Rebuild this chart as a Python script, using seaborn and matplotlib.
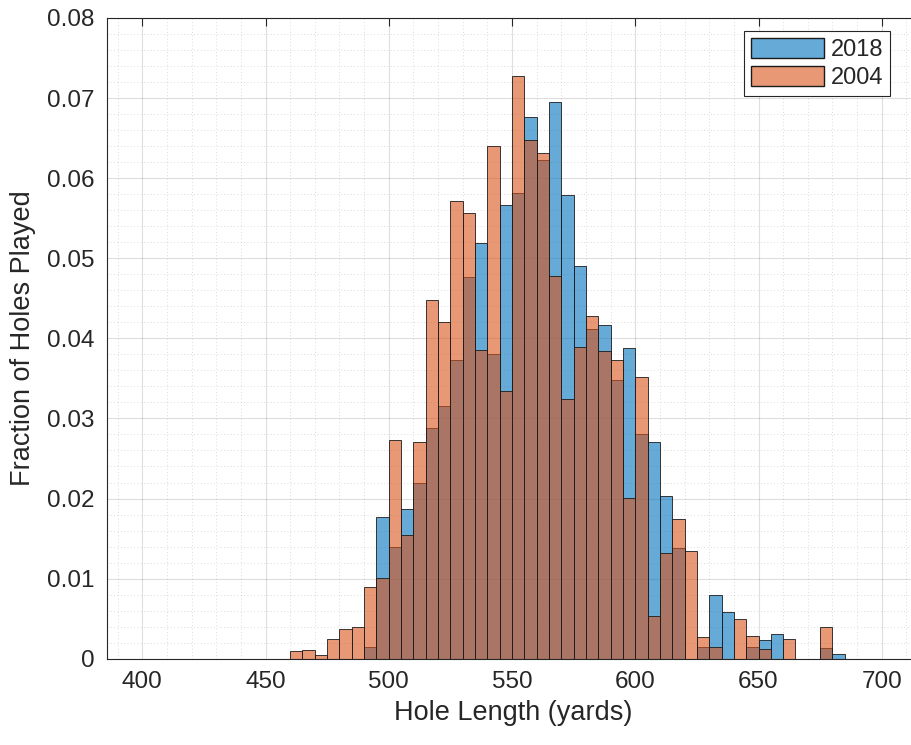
import numpy as np
import pandas as pd
import matplotlib
matplotlib.use("Agg")
import matplotlib.pyplot as plt
from matplotlib.patches import Patch
from matplotlib.ticker import MultipleLocator, FixedLocator, FixedFormatter
import seaborn as sns

# 5-yard bins, left edges 460 ... 680
bin_left = np.arange(460, 685, 5)
frac_2018 = [0, 0, 0, 0, 0, 0, 0.0015, 0.0177, 0.0139, 0.0187,
             0.0220, 0.0288, 0.0315, 0.0373, 0.0477, 0.0519, 0.0380, 0.0566, 0.0581, 0.0677,
             0.0623, 0.0695, 0.0579, 0.0490, 0.0412, 0.0417, 0.0348, 0.0388, 0.0281, 0.0271,
             0.0203, 0.0138, 0, 0.0014, 0.0080, 0.0058, 0, 0.0015, 0.0023, 0.0031,
             0, 0, 0, 0.0013, 0.0006]
frac_2004 = [0.0009, 0.0011, 0.0004, 0.0025, 0.0037, 0.0039, 0.0089, 0.0101, 0.0273, 0.0154,
             0.0271, 0.0448, 0.0421, 0.0571, 0.0556, 0.0386, 0.0640, 0.0334, 0.0727, 0.0648,
             0.0631, 0.0478, 0.0324, 0.0389, 0.0428, 0.0384, 0.0373, 0.0201, 0.0352, 0.0053,
             0.0132, 0.0175, 0.0134, 0.0027, 0.0014, 0, 0.0050, 0.0028, 0.0012, 0,
             0.0025, 0, 0, 0.0040, 0]
series_names = ["2018", "2004"]
y_ticks = [0, 0.01, 0.02, 0.03, 0.04, 0.05, 0.06, 0.07, 0.08]
y_tick_labels = ["0", "0.01", "0.02", "0.03", "0.04", "0.05", "0.06", "0.07", "0.08"]
x_ticks = [400, 450, 500, 550, 600, 650, 700]

sns.set_style("white")
plt.rcParams["font.family"] = ["Liberation Sans", "DejaVu Sans"]

text_col = (0.15, 0.15, 0.15)
colors = {"2018": (0.0, 0.447, 0.741), "2004": (0.85, 0.325, 0.098)}

df = pd.DataFrame({
    "length": np.concatenate([bin_left + 2.5, bin_left + 2.5]),
    "frac": np.concatenate([frac_2018, frac_2004]),
    "year": np.repeat(series_names, len(bin_left)),
})

fig = plt.figure(figsize=(9.11, 7.45), dpi=100)
ax = fig.add_axes([107 / 911, (745 - 658.7) / 745, (919 - 107) / 911, (658.7 - 18) / 745])

for name in series_names:
    n_before = len(ax.patches)
    sub = df[df["year"] == name]
    sns.histplot(data=sub, x="length", weights="frac", binwidth=5, binrange=(460, 685),
                 ax=ax, color=colors[name], alpha=0.6, edgecolor="black", linewidth=0.6)
    for p in ax.patches[n_before:]:
        p.set_alpha(None)
        p.set_facecolor((*colors[name], 0.6))
        p.set_edgecolor((0.1, 0.1, 0.1, 1.0))

ax.set_xlim(385.7, 715.1)
ax.set_ylim(0, 0.08)
ax.xaxis.set_major_locator(FixedLocator(x_ticks))
ax.xaxis.set_minor_locator(MultipleLocator(10))
ax.yaxis.set_major_locator(FixedLocator(y_ticks))
ax.yaxis.set_major_formatter(FixedFormatter(y_tick_labels))
ax.yaxis.set_minor_locator(MultipleLocator(0.002))

ax.grid(True, which="major", color=(0.15, 0.15, 0.15), alpha=0.15, linewidth=0.8)
ax.grid(True, which="minor", color=(0.15, 0.15, 0.15), alpha=0.22, linewidth=0.6,
        linestyle=(0, (1, 3)))
ax.set_axisbelow(True)

ax.tick_params(which="major", direction="in", length=6, width=0.8, colors=text_col,
               labelsize=17.5, top=True, right=True, pad=9)
ax.tick_params(which="minor", length=0)
for s in ax.spines.values():
    s.set_color(text_col)
    s.set_linewidth(0.8)

ax.set_xlabel("Hole Length (yards)", fontsize=19.5, color=text_col, labelpad=5)
ax.set_ylabel("Fraction of Holes Played", fontsize=19.5, color=text_col, labelpad=8)

handles = [Patch(facecolor=(*colors[n], 0.6), edgecolor=(0.1, 0.1, 0.1), label=n)
           for n in series_names]
leg = ax.legend(handles=handles, loc="upper left", bbox_to_anchor=(744 / 911, 1 - 31 / 745),
                bbox_transform=fig.transFigure, fontsize=17, frameon=True, fancybox=False,
                framealpha=1, edgecolor=text_col, handlelength=3.1, handleheight=0.95,
                handletextpad=0.3, borderpad=0.28, labelspacing=0.22, borderaxespad=0)
leg.get_frame().set_linewidth(0.8)
for t in leg.get_texts():
    t.set_color(text_col)

fig.savefig("out.png", dpi=100)
